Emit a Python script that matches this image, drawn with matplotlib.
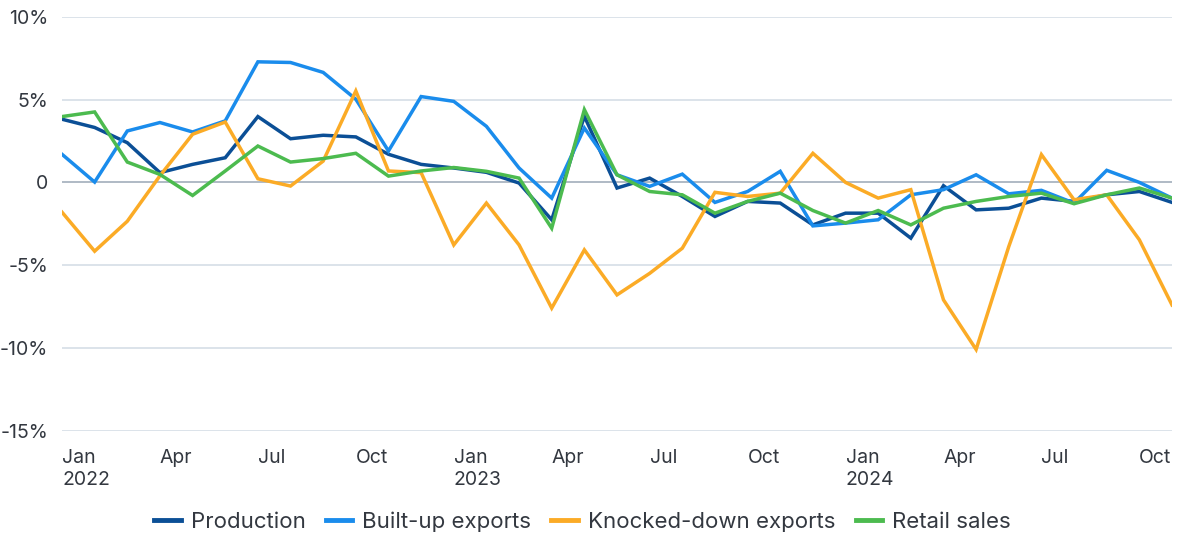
import matplotlib.pyplot as plt
import pandas as pnd

plt.rcParams['font.family'] = ['Inter', 'DejaVu Sans']

months = pnd.date_range('2022-01-01', '2024-11-01', freq='MS')

production = [3.82, 3.32, 2.40, 0.59, 1.09, 1.49, 3.98, 2.64, 2.85, 2.75, 1.70, 1.09,
              0.87, 0.61, -0.04, -2.26, 4.00, -0.34, 0.26, -0.85, -2.06, -1.15, -1.25, -2.57,
              -1.86, -1.86, -3.37, -0.20, -1.66, -1.56, -0.95, -1.15, -0.75, -0.55, -1.21]
built_up = [1.70, 0.02, 3.11, 3.62, 3.05, 3.72, 7.29, 7.25, 6.65, 5.03, 1.90, 5.19,
            4.90, 3.39, 0.87, -0.95, 3.29, 0.46, -0.24, 0.50, -1.21, -0.55, 0.67, -2.63,
            -2.46, -2.26, -0.75, -0.44, 0.46, -0.69, -0.48, -1.25, 0.73, 0.00, -0.95]
knocked_down = [-1.80, -4.16, -2.35, 0.40, 2.91, 3.65, 0.22, -0.22, 1.29, 5.53, 0.69, 0.59,
                -3.78, -1.25, -3.78, -7.60, -4.08, -6.80, -5.50, -3.98, -0.60, -0.85, -0.65, 1.76,
                0.00, -0.95, -0.44, -7.10, -10.10, -3.88, 1.68, -1.05, -0.75, -3.47, -7.41]
retail = [3.98, 4.26, 1.23, 0.48, -0.79, 0.69, 2.20, 1.23, 1.44, 1.76, 0.38, 0.69,
          0.90, 0.67, 0.26, -2.77, 4.40, 0.46, -0.55, -0.75, -1.86, -1.15, -0.65, -1.70,
          -2.46, -1.70, -2.57, -1.56, -1.15, -0.85, -0.65, -1.29, -0.75, -0.34, -0.95]

series = [
    ('Production', production, '#0b4f96'),
    ('Built-up exports', built_up, '#1a8cec'),
    ('Knocked-down exports', knocked_down, '#fbab26'),
    ('Retail sales', retail, '#4cbb4f'),
]

yticks = [10, 5, 0, -5, -10, -15]
ytick_labels = ['10%', '5%', '0', '-5%', '-10%', '-15%']

fig = plt.figure(figsize=(11.77, 5.36), dpi=100)
ax = fig.add_axes([62 / 1177, 1 - 430.5 / 536, 1110 / 1177, 413.5 / 536])

x = list(range(len(months)))
for name, values, color in series:
    ax.plot(x, values, color=color, lw=2.5, label=name, solid_joinstyle='miter', zorder=3)

for y in yticks:
    ax.axhline(y, color='#a9b4c0' if y == 0 else '#d9e0e8', lw=1.3, zorder=1)

ax.set_xlim(0, len(months) - 1)
ax.set_ylim(-15, 10)
ax.set_yticks(yticks)
ax.set_yticklabels(ytick_labels)

xt = [i for i, m in enumerate(months) if m.month in (1, 4, 7, 10)]
xl = [m.strftime('%b') + ('\n' + str(m.year) if m.month == 1 else '') for m in months if m.month in (1, 4, 7, 10)]
ax.set_xticks(xt)
ax.set_xticklabels(xl, ha='left', va='top', linespacing=1.35)

ax.tick_params(axis='both', length=0, labelsize=14, labelcolor='#333840')
ax.tick_params(axis='x', pad=13)
ax.tick_params(axis='y', pad=10)
for spine in ax.spines.values():
    spine.set_visible(False)

fig.legend(loc='center', bbox_to_anchor=(0.495, 14 / 536), ncol=4, frameon=False,
           fontsize=16, handlelength=1.2, handletextpad=0.45, columnspacing=0.9,
           labelcolor='#333840')
for line in fig.legends[0].get_lines():
    line.set_linewidth(3.5)

fig.savefig('out.png', dpi=100)
